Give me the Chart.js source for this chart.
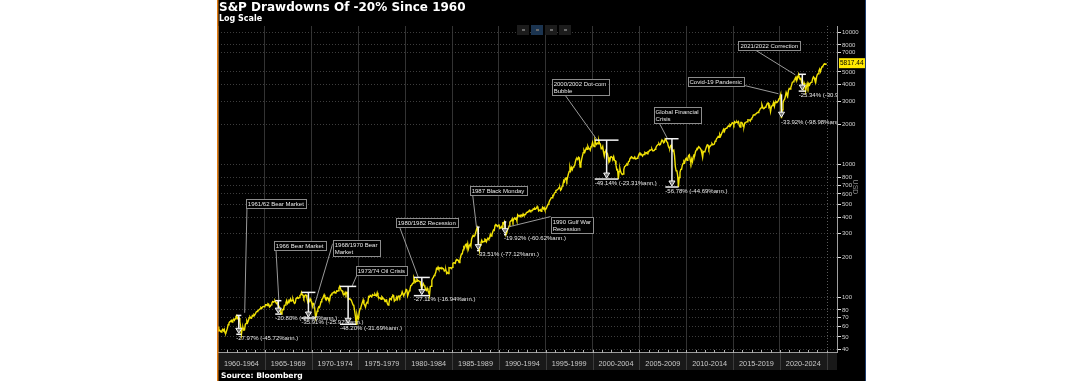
<!DOCTYPE html>
<html>
<head>
<meta charset="utf-8">
<script src="https://cdn.jsdelivr.net/npm/chart.js@4"></script>
<style>
  html, body { margin: 0; padding: 0; background: #fff; }
  #panel { position: absolute; left: 217px; top: 0; width: 649px; height: 381px; background: #000; }
  #spx { display: block; }
</style>
</head>
<body>
<div id="panel"><canvas id="spx" width="649" height="381"></canvas></div>
<script>
// S&P 500 level at the start of 1960, then month-end closes (crash highs/lows kept in)
const startYear = 1960;
const firstLevel = 59.89;
const spx1960s = [
  55.61, 56.12, 55.34, 54.37, 55.83, 56.92, 55.51, 56.96, 53.52, 53.39, 55.54, 58.11,
  61.78, 63.44, 65.06, 65.31, 66.56, 64.64, 66.76, 68.07, 66.73, 68.62, 71.32, 72.64,
  68.84, 69.96, 69.55, 65.24, 59.63, 52.32, 58.23, 59.12, 56.27, 56.52, 62.26, 63.10,
  66.20, 64.29, 66.57, 69.80, 70.80, 69.37, 69.13, 72.50, 71.70, 74.01, 73.23, 75.02,
  77.04, 77.80, 78.98, 79.46, 80.37, 81.69, 83.18, 81.83, 84.18, 84.86, 84.42, 84.75,
  87.56, 87.43, 86.16, 89.11, 88.42, 84.12, 85.25, 87.17, 89.96, 92.42, 91.61, 92.43,
  93.80, 91.22, 89.23, 91.06, 86.13, 84.74, 83.60, 77.10, 74.30, 80.20, 80.45, 80.33,
  86.61, 86.78, 90.20, 94.01, 89.08, 90.64, 94.75, 93.64, 96.71, 93.30, 94.00, 96.47,
  92.24, 89.36, 90.20, 97.59, 98.68, 99.58, 97.74, 98.86, 102.67, 103.41, 108.37, 103.86,
  103.01, 98.13, 101.51, 103.69, 103.46, 97.71, 91.83, 95.51, 93.12, 97.12, 93.81, 92.06
];
const spx1970s = [
  85.02, 89.50, 89.63, 81.52, 69.45, 72.72, 78.05, 81.52, 84.21, 83.25, 87.20, 92.15,
  95.88, 96.75, 100.31, 103.95, 99.63, 98.70, 95.58, 99.03, 98.34, 94.23, 93.99, 102.09,
  103.94, 106.57, 107.20, 107.67, 109.53, 107.14, 107.39, 111.09, 110.55, 111.58, 116.67, 120.24,
  116.03, 111.68, 111.52, 106.97, 104.95, 104.26, 108.22, 104.25, 108.43, 108.29, 95.96, 97.55,
  96.57, 96.22, 93.98, 90.31, 87.28, 86.00, 79.31, 72.15, 62.28, 73.90, 69.97, 68.56,
  76.98, 81.59, 83.36, 87.30, 91.15, 95.19, 88.75, 86.88, 83.87, 89.04, 91.24, 90.19,
  100.86, 99.71, 102.77, 101.64, 100.18, 104.28, 103.44, 102.91, 105.24, 102.90, 102.10, 107.46,
  102.03, 99.82, 98.42, 98.44, 96.12, 100.48, 98.85, 96.77, 96.53, 92.34, 94.83, 95.10,
  89.25, 87.04, 89.21, 96.83, 97.24, 95.53, 100.68, 103.29, 102.54, 93.15, 94.70, 96.11,
  99.93, 96.28, 101.59, 101.76, 99.08, 102.91, 103.81, 109.32, 109.32, 101.82, 106.16, 107.94
];
const spx1980s = [
  114.16, 113.66, 102.09, 106.29, 111.24, 114.24, 121.67, 122.38, 125.46, 127.47, 140.52, 135.76,
  129.55, 131.27, 136.00, 132.81, 132.59, 131.21, 130.92, 122.79, 116.18, 121.89, 126.35, 122.55,
  120.40, 113.11, 111.96, 116.44, 111.88, 109.61, 102.42, 119.51, 120.42, 133.71, 138.54, 140.64,
  145.30, 148.06, 152.96, 164.42, 162.39, 168.11, 162.56, 164.40, 166.07, 163.55, 166.40, 164.93,
  163.41, 157.06, 159.18, 160.05, 150.55, 153.18, 150.66, 166.68, 166.10, 166.09, 163.58, 167.24,
  179.63, 181.18, 180.66, 179.83, 189.55, 191.85, 190.92, 188.63, 182.08, 189.82, 202.17, 211.28,
  211.78, 226.92, 238.90, 235.52, 247.35, 250.84, 236.12, 252.93, 231.32, 243.98, 249.22, 242.17,
  274.08, 284.20, 291.70, 288.36, 290.10, 304.00, 318.66, 336.77, 321.83, 251.79, 223.92, 247.08,
  257.07, 267.82, 258.89, 261.33, 262.16, 273.50, 272.02, 261.52, 271.91, 278.97, 273.70, 277.72,
  297.47, 288.86, 294.87, 309.64, 320.52, 317.98, 346.08, 351.45, 349.15, 340.36, 345.99, 353.40
];
const spx1990s = [
  329.08, 331.89, 339.94, 330.80, 361.23, 358.02, 368.95, 322.56, 295.46, 304.00, 322.22, 330.22,
  343.93, 367.07, 375.22, 375.34, 389.83, 371.16, 387.81, 395.43, 387.86, 392.46, 375.22, 417.09,
  408.79, 412.70, 403.69, 414.95, 415.35, 408.14, 424.21, 414.03, 417.80, 418.68, 431.35, 435.71,
  438.78, 443.38, 451.67, 440.19, 450.19, 450.53, 448.13, 463.56, 458.93, 467.83, 461.79, 466.45,
  481.61, 467.14, 445.77, 450.91, 456.50, 444.27, 458.26, 475.49, 462.69, 472.35, 453.69, 459.27,
  470.42, 487.39, 500.71, 514.71, 533.40, 544.75, 562.06, 561.88, 584.41, 581.50, 605.37, 615.93,
  636.02, 640.43, 645.50, 654.17, 669.12, 670.63, 639.95, 651.99, 687.33, 705.27, 757.02, 740.74,
  786.16, 790.82, 757.12, 801.34, 848.28, 885.14, 954.31, 899.47, 947.28, 914.62, 955.40, 970.43,
  980.28, 1049.34, 1101.75, 1111.75, 1090.82, 1133.84, 1120.67, 957.28, 1017.01, 1098.67, 1163.63, 1229.23,
  1279.64, 1238.33, 1286.37, 1335.18, 1301.84, 1372.71, 1328.72, 1320.41, 1282.71, 1362.93, 1388.91, 1469.25
];
const spx2000s = [
  1394.46, 1366.42, 1527.46, 1452.43, 1420.60, 1454.60, 1430.83, 1517.68, 1436.51, 1429.40, 1315.23, 1320.28,
  1366.01, 1239.94, 1160.33, 1249.46, 1255.82, 1224.42, 1211.23, 1133.58, 1040.94, 1059.78, 1139.45, 1148.08,
  1130.20, 1106.73, 1147.39, 1076.92, 1067.14, 989.82, 911.62, 916.07, 776.76, 885.76, 936.31, 879.82,
  855.70, 841.15, 848.18, 916.92, 963.59, 974.50, 990.31, 1008.01, 995.97, 1050.71, 1058.20, 1111.92,
  1131.13, 1144.94, 1126.21, 1107.30, 1120.68, 1140.84, 1101.72, 1104.24, 1114.58, 1130.20, 1173.82, 1211.92,
  1181.27, 1203.60, 1180.59, 1156.85, 1191.50, 1191.33, 1234.18, 1220.33, 1228.81, 1207.01, 1249.48, 1248.29,
  1280.08, 1280.66, 1294.83, 1310.61, 1270.09, 1270.20, 1276.66, 1303.82, 1335.85, 1377.94, 1400.63, 1418.30,
  1438.24, 1406.82, 1420.86, 1482.37, 1530.62, 1503.35, 1455.27, 1473.99, 1565.15, 1549.38, 1481.14, 1468.36,
  1378.55, 1330.63, 1322.70, 1385.59, 1400.38, 1280.00, 1267.38, 1282.83, 1166.36, 968.75, 896.24, 903.25,
  825.88, 676.53, 797.87, 872.81, 919.14, 919.32, 987.48, 1020.62, 1057.08, 1036.19, 1095.63, 1115.10
];
const spx2010s = [
  1073.87, 1104.49, 1169.43, 1186.69, 1089.41, 1030.71, 1101.60, 1049.33, 1141.20, 1183.26, 1180.55, 1257.64,
  1286.12, 1327.22, 1325.83, 1363.61, 1345.20, 1320.64, 1292.28, 1218.89, 1131.42, 1253.30, 1246.96, 1257.60,
  1312.41, 1365.68, 1408.47, 1397.91, 1310.33, 1362.16, 1379.32, 1406.58, 1440.67, 1412.16, 1416.18, 1426.19,
  1498.11, 1514.68, 1569.19, 1597.57, 1630.74, 1606.28, 1685.73, 1632.97, 1681.55, 1756.54, 1805.81, 1848.36,
  1782.59, 1859.45, 1872.34, 1883.95, 1923.57, 1960.23, 1930.67, 2003.37, 1972.29, 2018.05, 2067.56, 2058.90,
  1994.99, 2104.50, 2067.89, 2085.51, 2107.39, 2063.11, 2103.84, 1972.18, 1920.03, 2079.36, 2080.41, 2043.94,
  1940.24, 1932.23, 2059.74, 2065.30, 2096.95, 2098.86, 2173.60, 2170.95, 2168.27, 2126.15, 2198.81, 2238.83,
  2278.87, 2363.64, 2362.72, 2384.20, 2411.80, 2423.41, 2470.30, 2471.65, 2519.36, 2575.26, 2647.58, 2673.61,
  2823.81, 2713.83, 2640.87, 2648.05, 2705.27, 2718.37, 2816.29, 2901.52, 2913.98, 2711.74, 2760.17, 2506.85,
  2704.10, 2784.49, 2834.40, 2945.83, 2752.06, 2941.76, 2980.38, 2926.46, 2976.74, 3037.56, 3140.98, 3230.78
];
const spx2020s = [
  3386.15, 2237.40, 2584.59, 2912.43, 3044.31, 3100.29, 3271.12, 3500.31, 3363.00, 3269.96, 3621.63, 3756.07,
  3714.24, 3811.15, 3972.89, 4181.17, 4204.11, 4297.50, 4395.26, 4522.68, 4307.54, 4605.38, 4567.00, 4796.56,
  4515.55, 4373.94, 4530.41, 4131.93, 4132.15, 3785.38, 4130.29, 3955.00, 3581.00, 3871.98, 4080.11, 3839.50,
  4076.60, 3970.15, 4109.31, 4169.48, 4179.83, 4450.38, 4588.96, 4507.66, 4288.05, 4193.80, 4567.80, 4769.83,
  4845.65, 5096.27, 5254.35, 5035.69, 5277.51, 5460.48, 5522.30, 5648.40, 5762.48, 5705.45, 5817.44
];

const yTicks = [40, 50, 60, 70, 80, 100, 200, 300, 400, 500, 600, 700, 800, 1000, 2000, 3000, 4000, 5000, 7000, 8000, 10000];

// drawdowns of 20% or more (dates as decimal years)
const ddEvents = [['1961/62 Bear Market'], ['1966 Bear Market'], ['1968/1970 Bear', 'Market'], ['1973/74 Oil Crisis'],
  ['1980/1982 Recession'], ['1987 Black Monday'], ['1990 Gulf War', 'Recession'], ['2000/2002 Dot-com', 'Bubble'],
  ['Global Financial', 'Crisis'], ['Covid-19 Pandemic'], ['2021/2022 Correction']];
const ddPeakDate = [1961.95, 1966.11, 1968.91, 1973.03, 1980.91, 1987.65, 1990.54, 2000.23, 2007.77, 2020.13, 2022.01];
const ddPeak = [72.64, 93.80, 108.37, 120.24, 140.52, 336.77, 368.95, 1527.46, 1565.15, 3386.15, 4796.56];
const ddTroughDate = [1962.49, 1966.77, 1970.40, 1974.76, 1982.62, 1987.93, 1990.78, 2002.77, 2009.18, 2020.22, 2022.78];
const ddTrough = [52.32, 74.30, 69.45, 62.28, 102.42, 223.92, 295.46, 776.76, 676.53, 2237.40, 3581.00];
const ddText = ['-27.97% (-45.72%ann.)', '-20.80% (-29.35%ann.)', '-35.91% (-25.97%ann.)', '-48.20% (-31.69%ann.)',
  '-27.11% (-16.94%ann.)', '-33.51% (-77.12%ann.)', '-19.92% (-60.62%ann.)', '-49.14% (-23.31%ann.)',
  '-56.78% (-44.69%ann.)', '-33.92% (-98.98%ann.)', '-25.34% (-30.97%ann.)'];

// where the callout boxes sit (top-left, in axis units) and where their leader lines point
const boxAt = [[1962.97, 549], [1965.96, 264.7], [1972.25, 269.3], [1974.71, 171.4], [1978.98, 394.7], [1986.87, 688],
  [1995.52, 401.7], [1995.63, 4420], [2006.51, 2716], [2010.14, 4575], [2015.58, 8551]];
const leaderTo = [[1962.85, 76], [1966.5, 93.8], [1970.2, 82], [1974.3, 120], [1981.4, 140], [1987.6, 337],
  [1991.0, 338], [2000.5, 1527], [2008.0, 1565], [2019.85, 3420], [2021.65, 4750]];
const leaderFrom = [[0.02, 1], [0.04, 1], [0, 0.35], [0.04, 1], [0.05, 1], [0.05, 1], [0, 0.1], [0.21, 1], [0.1, 1], [0.9, 1], [0.22, 1]];

const levels = [firstLevel, ...spx1960s, ...spx1970s, ...spx1980s, ...spx1990s, ...spx2000s, ...spx2010s, ...spx2020s];
const points = levels.map((v, i) => ({ x: startYear + i / 12, y: v }));

Chart.defaults.font.family = 'Liberation Sans';

const seg = (ctx, x1, y1, x2, y2) => { ctx.beginPath(); ctx.moveTo(x1, y1); ctx.lineTo(x2, y2); ctx.stroke(); };

const bloombergBits = {
  id: 'bloombergBits',
  beforeDraw(chart) {
    const { ctx, chartArea: a } = chart;
    ctx.save();
    ctx.fillStyle = '#000';
    ctx.fillRect(0, 0, chart.width, chart.height);
    ctx.fillStyle = '#191919';
    ctx.fillRect(a.left, a.bottom, a.right - a.left, 18);
    ctx.restore();
  },
  afterDraw(chart) {
    const { ctx, chartArea: a } = chart;
    const xs = chart.scales.x, ys = chart.scales.y;
    ctx.save();

    // year ticks and 5-year separators under the axis
    ctx.lineWidth = 1;
    for (let yr = 1961; yr <= 2025; yr++) {
      const px = Math.round(xs.getPixelForValue(yr)) + 0.5;
      if (yr % 5 === 0) {
        ctx.strokeStyle = '#3c3c3c';
        seg(ctx, px, a.bottom + 1, px, a.bottom + 18);
      }
      ctx.strokeStyle = '#b0b0b0';
      seg(ctx, px, a.bottom - 2, px, a.bottom + 1);
    }
    const x25 = Math.round(xs.getPixelForValue(2025)) + 0.5;
    ctx.strokeStyle = '#5a5a5a';
    ctx.setLineDash([1, 2]);
    seg(ctx, x25, a.top, x25, a.bottom);
    ctx.setLineDash([]);

    // annotations, clipped to the plot
    ctx.save();
    ctx.beginPath();
    ctx.rect(a.left, a.top - 30, a.right - a.left, a.bottom - a.top + 30);
    ctx.clip();
    ctx.font = '6px "Liberation Sans"';
    ctx.textBaseline = 'middle';
    ddEvents.forEach((lines, i) => {
      const bx = xs.getPixelForValue(boxAt[i][0]);
      const by = ys.getPixelForValue(boxAt[i][1]);
      const bw = Math.max(...lines.map(t => ctx.measureText(t).width)) + 4;
      const bh = lines.length * 7 + 2;
      const fx = bx + leaderFrom[i][0] * bw, fy = by + leaderFrom[i][1] * bh;
      ctx.strokeStyle = '#9a9a9a';
      ctx.lineWidth = 1;
      seg(ctx, fx, fy - 2, xs.getPixelForValue(leaderTo[i][0]), ys.getPixelForValue(leaderTo[i][1]));
      ctx.fillStyle = '#000';
      ctx.fillRect(bx, by, bw, bh);
      ctx.strokeStyle = '#8c8c8c';
      ctx.strokeRect(Math.round(bx) + 0.5, Math.round(by) + 0.5, Math.round(bw), Math.round(bh));
      ctx.fillStyle = '#e8e8e8';
      lines.forEach((t, k) => ctx.fillText(t, bx + 2, by + 5 + k * 7));
    });

    ddPeak.forEach((pk, i) => {
      const x0 = xs.getPixelForValue(ddPeakDate[i]);
      const x1 = xs.getPixelForValue(ddTroughDate[i]);
      const xm = (x0 + x1) / 2;
      const yt = ys.getPixelForValue(pk);
      const yb = ys.getPixelForValue(ddTrough[i]);
      ctx.strokeStyle = '#f4f4f4';
      ctx.lineWidth = 1.5;
      if (x1 - x0 > 2) {
        seg(ctx, x0, yt, x1, yt);
        seg(ctx, x0, yb, x1, yb);
      }
      seg(ctx, xm, yt, xm, yb - 5);
      ctx.lineWidth = 1;
      ctx.beginPath();
      ctx.moveTo(xm - 3, yb - 6);
      ctx.lineTo(xm + 3, yb - 6);
      ctx.lineTo(xm, yb - 1);
      ctx.closePath();
      ctx.fillStyle = '#777';
      ctx.fill();
      ctx.stroke();
      ctx.fillStyle = '#e8e8e8';
      ctx.fillText(ddText[i], x0, yb + 4);
    });
    ctx.restore();

    // last value tag
    const last = levels[levels.length - 1];
    const ly = ys.getPixelForValue(last);
    ctx.fillStyle = '#ffe800';
    ctx.fillRect(a.right + 2, ly - 5, chart.width - a.right - 2, 10);
    ctx.fillStyle = '#000';
    ctx.font = '6.5px "Liberation Sans"';
    ctx.textBaseline = 'middle';
    ctx.fillText(last.toFixed(2), a.right + 3, ly + 0.5);

    // currency label beside the axis
    ctx.save();
    ctx.translate(638, 187);
    ctx.rotate(Math.PI / 2);
    ctx.fillStyle = '#8a8a8a';
    ctx.font = '7px "Liberation Sans"';
    ctx.textAlign = 'center';
    ctx.fillText('USD', 0, 0);
    ctx.restore();

    // toolbar buttons
    [300, 314, 328, 342].forEach((bx, k) => {
      ctx.fillStyle = k === 1 ? '#1b3450' : '#1c1c1c';
      ctx.fillRect(bx, 25, 12, 10);
      ctx.fillStyle = '#6a6a6a';
      ctx.fillRect(bx + 5, 29, 3, 2);
    });

    // titles
    ctx.fillStyle = '#fff';
    ctx.textBaseline = 'alphabetic';
    ctx.textAlign = 'left';
    ctx.font = 'bold 12px "DejaVu Sans"';
    ctx.fillText('S&P Drawdowns Of -20% Since 1960', 2, 11);
    ctx.font = 'bold 8px "DejaVu Sans"';
    ctx.fillText('Log Scale', 2, 21);
    ctx.font = 'bold 7.6px "DejaVu Sans"';
    ctx.fillText('Source: Bloomberg', 4, 378);

    // frame edges
    ctx.fillStyle = '#e07a10';
    ctx.fillRect(0, 0, 1.5, chart.height);
    ctx.fillStyle = '#1f3d6e';
    ctx.fillRect(chart.width - 1, 0, 1, chart.height);
    ctx.restore();
  }
};

new Chart(document.getElementById('spx'), {
  type: 'line',
  data: {
    datasets: [{
      data: points,
      borderColor: '#f2e205',
      borderWidth: 1.4,
      pointRadius: 0,
      tension: 0
    }]
  },
  options: {
    responsive: false,
    animation: false,
    events: [],
    layout: { padding: { top: 26, left: 1, right: 0, bottom: 0 } },
    plugins: { legend: { display: false }, tooltip: { enabled: false } },
    scales: {
      x: {
        type: 'linear',
        min: 1960,
        max: 2026.1,
        afterBuildTicks: s => {
          s.ticks = [];
          for (let t = 1960; t <= 2025; t += 0.5) s.ticks.push({ value: t });
        },
        afterFit: s => { s.height = 29; s.paddingLeft = 0; s.paddingRight = 0; },
        grid: {
          color: c => (c.tick && c.tick.value % 5 === 0 && c.tick.value < 2025) ? '#333' : 'rgba(0,0,0,0)',
          drawTicks: false
        },
        border: { display: true, color: '#9a9a9a' },
        ticks: {
          autoSkip: false,
          maxRotation: 0,
          padding: 8,
          color: '#c8c8c8',
          font: { size: 7.3 },
          callback: v => ((v - 1960) % 5 === 2.5 ? (v - 2.5) + '-' + (v + 1.5) : '')
        }
      },
      y: {
        type: 'logarithmic',
        position: 'right',
        min: 38.46,
        max: 11100,
        afterBuildTicks: s => { s.ticks = yTicks.map(v => ({ value: v })); },
        afterFit: s => { s.width = 29; s.paddingTop = 0; s.paddingBottom = 0; },
        grid: { color: '#3d3d3d', drawTicks: true, tickLength: 4, tickColor: '#e0e0e0' },
        border: { display: true, color: '#a0a0a0', dash: [1, 2] },
        ticks: { padding: 1, color: '#cfcfcf', font: { size: 6 }, callback: v => String(v) }
      }
    }
  },
  plugins: [bloombergBits]
});
</script>
</body>
</html>
